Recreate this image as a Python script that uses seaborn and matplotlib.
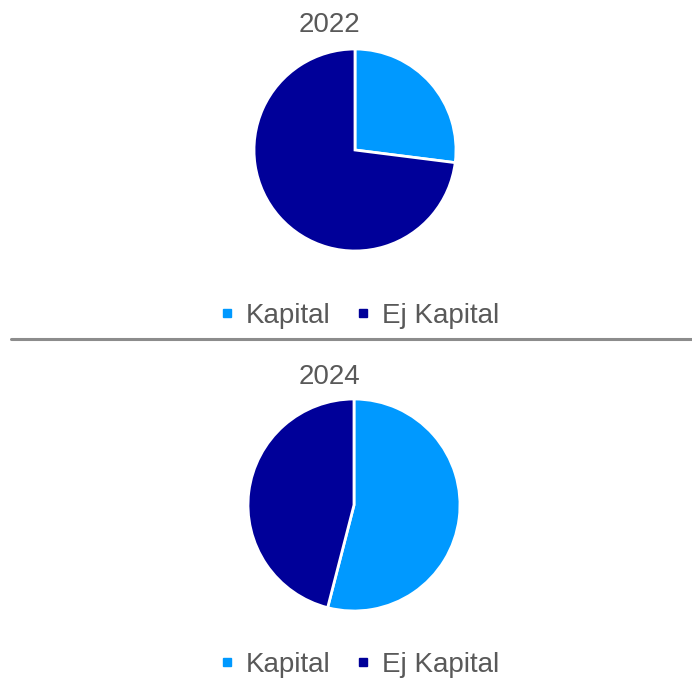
import matplotlib
matplotlib.use("Agg")
import matplotlib.pyplot as plt
from matplotlib.lines import Line2D
import seaborn as sns

# data
categories = ["Kapital", "Ej Kapital"]
years = ["2022", "2024"]
values_2022 = [27, 73]
values_2024 = [54, 46]

sns.set_theme(style="white")
plt.rcParams["font.family"] = ["Liberation Sans", "DejaVu Sans"]
colors = sns.color_palette(["#0099FF", "#000099"])

fig = plt.figure(figsize=(6.92, 6.89), dpi=100)

# axes boxes in figure fraction
boxes = [
    [254 / 692, 1 - 251 / 689, 202 / 692, 202 / 689],
    [248 / 692, 1 - 611 / 689, 212 / 692, 212 / 689],
]
title_y = [1 - 25 / 689, 1 - 377 / 689]
legend_y = [1 - 316 / 689, 1 - 665 / 689]

for year, vals, box, ty, ly in zip(years, [values_2022, values_2024], boxes, title_y, legend_y):
    ax = fig.add_axes(box)
    ax.pie(vals, colors=colors, startangle=90, counterclock=False,
           wedgeprops=dict(edgecolor="white", linewidth=2))
    ax.set_xlim(-1, 1)
    ax.set_ylim(-1, 1)
    ax.set_aspect("equal")
    ax.axis("off")
    fig.text(329 / 692, ty, year, ha="center", va="center", fontsize=20, color="#595959")

    handles = [Line2D([], [], marker="s", linestyle="", markersize=6,
                      markerfacecolor=c, markeredgecolor=c) for c in colors]
    fig.legend(handles, categories, loc="center", bbox_to_anchor=(359 / 692, ly),
               ncol=2, frameon=False, fontsize=20, labelcolor="#595959",
               handlelength=0.6, handletextpad=0.4, columnspacing=0.85)

# separator line
fig.add_artist(Line2D([11 / 692, 1], [1 - 338.5 / 689] * 2, color="#8c8c8c",
                      linewidth=2.2, transform=fig.transFigure))

fig.savefig("out.png", dpi=100)
